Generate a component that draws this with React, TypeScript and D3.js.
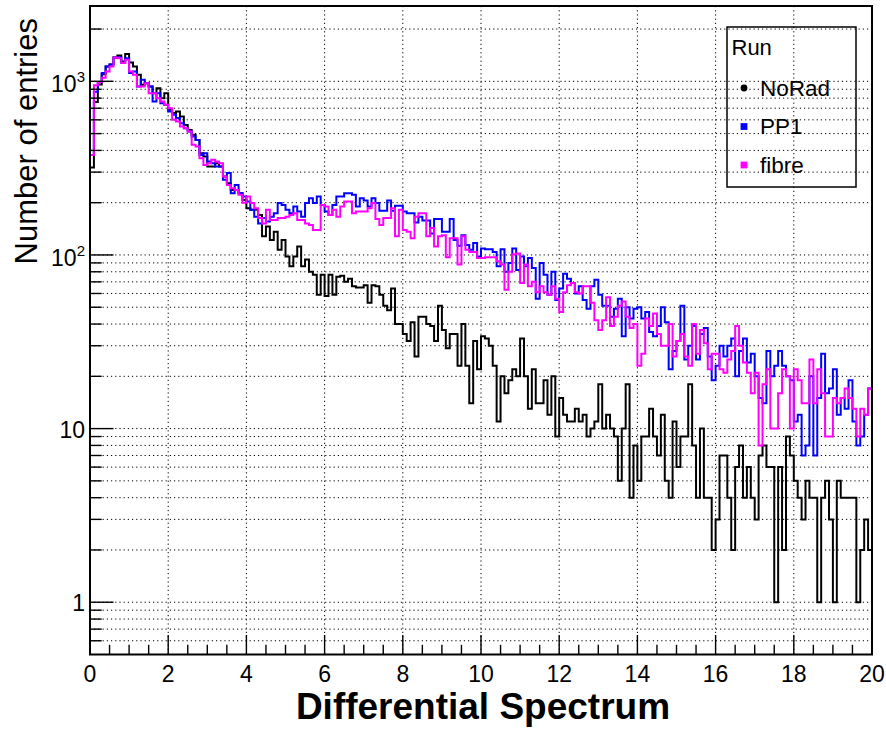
import React from 'react';
import * as d3 from 'd3';

// Histogram bin contents (200 bins, width 0.1, range 0..20)
const noRad: number[] = [
  319, 760, 960, 1100, 1217, 1250, 1370, 1408, 1300, 1435,
  1284, 1217, 1090, 955, 976, 933, 855, 913, 800, 855,
  685, 656, 670, 627, 561, 525, 492, 460, 385, 369,
  323, 323, 337, 323, 283, 259, 237, 237, 227, 207,
  186, 182, 182, 170, 128, 146, 122, 136, 107, 122,
  98, 86, 98, 112, 86, 94, 80, 77, 59, 77,
  58, 77, 59, 75, 76, 70, 73, 66, 65, 65,
  67, 53, 67, 66, 59, 51, 48, 64, 40, 40,
  35, 32, 41, 26, 44, 44, 40, 39, 32, 51,
  37, 29, 35, 35, 23, 40, 23, 14, 32, 22,
  34, 33, 30, 23, 11, 20, 16, 19, 22, 20,
  33, 20, 13, 22, 14, 14, 19, 12, 20, 9,
  15, 12, 11, 11, 13, 11, 12, 9, 10, 11,
  18, 10, 12, 10, 9, 5, 10, 18, 4, 8,
  5, 9, 9, 13, 9, 7, 12, 5, 4, 11,
  6, 9, 9, 18, 8, 4, 10, 4, 4, 2,
  3, 7, 7, 4, 2, 6, 8, 4, 6, 4,
  3, 7, 8, 6, 6, 1, 6, 2, 9, 7,
  5, 4, 3, 5, 4, 4, 1, 4, 5, 3,
  1, 5, 4, 4, 4, 4, 1, 2, 3, 2,
];

const pp1: number[] = [
  377, 870, 990, 1115, 1217, 1250, 1370, 1378, 1274, 1360,
  1115, 1139, 933, 1020, 976, 933, 765, 855, 748, 732,
  670, 641, 614, 574, 537, 514, 481, 460, 377, 385,
  345, 337, 323, 323, 271, 296, 227, 253, 227, 217,
  203, 182, 166, 152, 163, 156, 166, 174, 199, 194,
  182, 174, 190, 178, 166, 199, 212, 199, 217, 194,
  178, 170, 194, 217, 217, 227, 227, 222, 190, 212,
  206, 190, 212, 199, 180, 180, 206, 180, 192, 192,
  178, 174, 174, 154, 166, 158, 158, 133, 161, 161,
  136, 136, 161, 122, 113, 130, 114, 107, 117, 98,
  109, 108, 108, 104, 86, 108, 80, 90, 109, 82,
  98, 86, 96, 84, 56, 90, 77, 59, 80, 55,
  64, 78, 73, 69, 60, 66, 55, 49, 66, 72,
  59, 51, 51, 44, 49, 56, 34, 50, 43, 49,
  50, 43, 47, 36, 34, 39, 50, 41, 22, 28,
  32, 51, 25, 30, 39, 25, 35, 38, 26, 19,
  23, 30, 26, 30, 33, 20, 28, 33, 24, 27,
  20, 15, 14, 28, 20, 23, 28, 23, 20, 19,
  11, 12, 7, 8, 20, 7, 15, 27, 16, 17,
  22, 12, 15, 13, 19, 11, 8, 9, 12, 17,
];

const fibre: number[] = [
  377, 950, 990, 1050, 1139, 1217, 1370, 1360, 1274, 1331,
  1139, 1090, 933, 933, 976, 855, 855, 800, 765, 732,
  700, 600, 587, 549, 537, 514, 431, 421, 361, 330,
  337, 353, 345, 337, 283, 253, 242, 237, 222, 200,
  217, 199, 186, 163, 152, 182, 159, 159, 163, 163,
  166, 170, 174, 159, 159, 152, 149, 139, 139, 194,
  190, 170, 182, 166, 190, 203, 203, 174, 178, 178,
  178, 186, 199, 161, 149, 163, 163, 186, 128, 182,
  139, 136, 125, 166, 174, 174, 128, 143, 112, 128,
  130, 97, 125, 125, 88, 128, 107, 104, 104, 96,
  96, 97, 97, 97, 92, 88, 63, 80, 101, 102,
  69, 88, 66, 70, 61, 66, 61, 59, 66, 56,
  47, 61, 67, 69, 61, 60, 66, 66, 53, 42,
  37, 42, 57, 39, 44, 51, 54, 44, 38, 40,
  23, 27, 43, 39, 46, 35, 30, 30, 40, 26,
  32, 35, 26, 23, 40, 27, 37, 31, 22, 27,
  27, 22, 21, 25, 28, 39, 30, 24, 21, 16,
  21, 8, 18, 22, 10, 10, 16, 22, 20, 10,
  22, 19, 14, 14, 25, 14, 22, 16, 9, 9,
  15, 14, 15, 17, 15, 13, 9, 13, 12, 17,
];

const binWidth = 0.1;
const xMin = 0;
const xMax = 20;
const yMin = 0.5;
const yMax = 2715;

const xMajorTicks = [0, 2, 4, 6, 8, 10, 12, 14, 16, 18, 20];
const xTickLabels = ['0', '2', '4', '6', '8', '10', '12', '14', '16', '18', '20'];
const yMajorTicks = [1, 10, 100, 1000];
const yTickBase = ['1', '10', '10', '10'];
const yTickExp = ['', '', '2', '3'];

const seriesNames = ['NoRad', 'PP1', 'fibre'];
const seriesColors = ['#000000', '#0000ff', '#ff00ff'];
const seriesData = [noRad, pp1, fibre];

const legendTitle = 'Run';
const xTitle = 'Differential Spectrum';
const yTitle = 'Number of entries';

const FONT = '"Liberation Sans", Arial, Helvetica, sans-serif';

export default function App() {
  const W = 886;
  const H = 729;
  const left = 90;
  const right = 872;
  const top = 6;
  const bottom = 654.5;

  const x = d3.scaleLinear().domain([xMin, xMax]).range([left, right]);
  const y = d3.scaleLog().domain([yMin, yMax]).range([bottom, top]);

  const yGridVals: number[] = [];
  for (let e = -1; e <= 3; e++) {
    for (let m = 1; m <= 9; m++) {
      const v = m * Math.pow(10, e);
      if (v > yMin * 1.0001 && v < yMax) yGridVals.push(v);
    }
  }
  const isMajorY = (v: number) => Math.abs(Math.log10(v) - Math.round(Math.log10(v))) < 1e-9;

  const xMinor: number[] = d3.range(xMin, xMax + 0.001, 0.5);

  const line = d3
    .line<[number, number]>()
    .x((d) => x(d[0]))
    .y((d) => y(d[1]))
    .curve(d3.curveStepAfter);

  const paths = seriesData.map((vals) => {
    const pts: [number, number][] = vals.map((v, i) => [xMin + i * binWidth, Math.max(v, yMin)]);
    pts.push([xMin + vals.length * binWidth, Math.max(vals[vals.length - 1], yMin)]);
    return line(pts) || '';
  });

  const yTickMajorLen = 23.5;
  const yTickMinorLen = 11.7;
  const xTickMajorLen = 19.5;
  const xTickMinorLen = 9.7;

  const legendX = 727;
  const legendY = 27;
  const legendW = 129;
  const legendH = 160;
  const legendRows = [95.5, 134, 172.5];

  return (
    <svg
      width={W}
      height={H}
      viewBox={`0 0 ${W} ${H}`}
      style={{ position: 'absolute', left: 0, top: 0, display: 'block', background: '#fff' }}
      fontFamily={FONT}
    >
      <rect x={0} y={0} width={W} height={H} fill="#fff" />
      <defs>
        <clipPath id="plotClip">
          <rect x={left} y={top} width={right - left} height={bottom - top} />
        </clipPath>
      </defs>

      <g stroke="#000" strokeWidth={1} strokeDasharray="1.2 3">
        {yGridVals.map((v, i) => (
          <line key={'gy' + i} x1={left} x2={right} y1={y(v)} y2={y(v)} />
        ))}
        {xMajorTicks.slice(1, -1).map((t, i) => (
          <line key={'gx' + i} x1={x(t)} x2={x(t)} y1={top} y2={bottom} />
        ))}
      </g>

      <g clipPath="url(#plotClip)" fill="none" strokeWidth={2} strokeLinejoin="miter">
        {paths.map((p, i) => (
          <path key={'h' + i} d={p} stroke={seriesColors[i]} />
        ))}
      </g>

      <g stroke="#000" strokeWidth={1.4}>
        {yGridVals.map((v, i) => (
          <line
            key={'ty' + i}
            x1={left}
            x2={left + (isMajorY(v) ? yTickMajorLen : yTickMinorLen)}
            y1={y(v)}
            y2={y(v)}
          />
        ))}
        {xMinor.map((t, i) => {
          const major = Math.abs(t / 2 - Math.round(t / 2)) < 1e-9;
          return (
            <line
              key={'tx' + i}
              x1={x(t)}
              x2={x(t)}
              y1={bottom}
              y2={bottom - (major ? xTickMajorLen : xTickMinorLen)}
            />
          );
        })}
      </g>

      <rect x={left} y={top} width={right - left} height={bottom - top} fill="none" stroke="#000" strokeWidth={2} />

      <g fontSize={23} textAnchor="middle" fill="#000">
        {xMajorTicks.map((t, i) => (
          <text key={'xl' + i} x={x(t)} y={682}>
            {xTickLabels[i]}
          </text>
        ))}
      </g>

      <g fontSize={23} textAnchor="end" fill="#000">
        {yMajorTicks.map((v, i) => (
          <text key={'yl' + i} x={85} y={y(v) + (yTickExp[i] ? 11 : 9)}>
            <tspan>{yTickBase[i]}</tspan>
            {yTickExp[i] ? (
              <tspan fontSize={15} dy={-10}>
                {yTickExp[i]}
              </tspan>
            ) : null}
          </text>
        ))}
      </g>

      <text x={(left + right) / 2 + 2} y={719} textAnchor="middle" fontSize={37} fontWeight="bold" fill="#000">
        {xTitle}
      </text>
      <text transform={`translate(37, 18) rotate(-90)`} textAnchor="end" fontSize={31} fill="#000">
        {yTitle}
      </text>

      <rect x={legendX} y={legendY} width={legendW} height={legendH} fill="none" stroke="#000" strokeWidth={1.5} />
      <text x={731.5} y={55} fontSize={22} fill="#000">
        {legendTitle}
      </text>
      {seriesNames.map((name, i) => (
        <g key={'lg' + i}>
          {i === 0 ? (
            <circle cx={744} cy={legendRows[i] - 7.5} r={3.4} fill={seriesColors[i]} />
          ) : (
            <rect x={744 - 3.4} y={legendRows[i] - 7.5 - 3.4} width={6.8} height={6.8} fill={seriesColors[i]} />
          )}
          <text x={760} y={legendRows[i]} fontSize={22.5} fill="#000">
            {name}
          </text>
        </g>
      ))}
    </svg>
  );
}
